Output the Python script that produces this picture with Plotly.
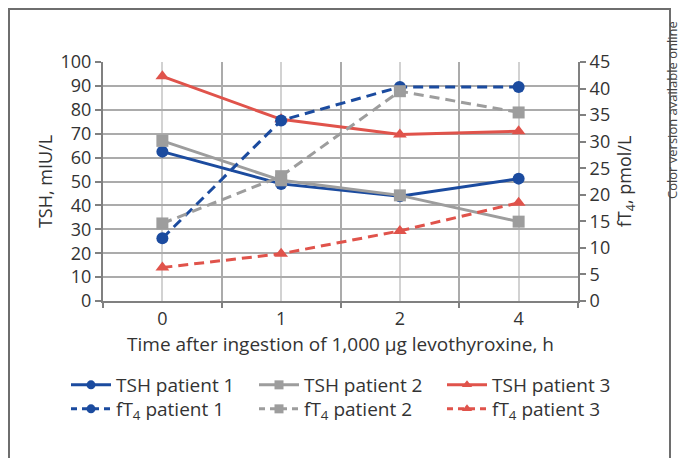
import plotly.graph_objects as go

categories = ["0", "1", "2", "4"]
tsh_p1 = [62.5, 49.0, 43.8, 51.2]
tsh_p2 = [67.0, 50.5, 44.2, 33.2]
tsh_p3 = [94.0, 76.0, 69.7, 71.0]
ft4_p1 = [11.8, 34.0, 40.3, 40.3]
ft4_p2 = [14.6, 23.5, 39.5, 35.5]
ft4_p3 = [6.3, 8.9, 13.2, 18.5]

BLUE = "#1b4b9f"
GRAY = "#9d9d9d"
RED = "#e0534b"
FONT = "Open Sans"
TXT = "#333333"

xs = list(range(len(categories)))

OFF = 8  # page body margin
W, H = 687 - OFF, 458 - OFF
L, R, T, B = 103 - OFF, 578 - OFF, 62 - OFF, 301 - OFF

def px_x(p):
    return (p - OFF - L) / (R - L)

def px_y(p):
    return (B - (p - OFF)) / (B - T)

fig = go.Figure()

series = [
    ("TSH patient 1", tsh_p1, BLUE, "circle", "solid", "y", "legend"),
    ("TSH patient 2", tsh_p2, GRAY, "square", "solid", "y", "legend"),
    ("TSH patient 3", tsh_p3, RED, "triangle-up", "solid", "y", "legend"),
    ("fT<sub>4</sub> patient 1", ft4_p1, BLUE, "circle", "10px,6px", "y2", "legend2"),
    ("fT<sub>4</sub> patient 2", ft4_p2, GRAY, "square", "10px,6px", "y2", "legend2"),
    ("fT<sub>4</sub> patient 3", ft4_p3, RED, "triangle-up", "10px,6px", "y2", "legend2"),
]

for name, vals, col, sym, dash, yax, leg in series:
    fig.add_trace(go.Scatter(
        x=xs, y=vals, name=name, yaxis=yax, showlegend=False,
        mode="lines+markers",
        line=dict(color=col, width=3, dash=dash),
        marker=dict(color=col, symbol=sym, size=12),
    ))

# legend entries (smaller markers, like the reference legend)
for name, vals, col, sym, dash, yax, leg in series:
    fig.add_trace(go.Scatter(
        x=[None], y=[None], name=name, yaxis=yax, legend=leg,
        mode="lines+markers",
        line=dict(color=col, width=3, dash="6px,5px" if dash != "solid" else "solid"),
        marker=dict(color=col, symbol=sym, size=9),
    ))

fig.update_layout(
    width=W, height=H,
    margin=dict(l=L, r=W - R, t=T, b=H - B),
    paper_bgcolor="white", plot_bgcolor="white",
    font=dict(family=FONT, color=TXT, size=18),
    xaxis=dict(
        range=[-0.5, len(categories) - 0.5],
        tickvals=xs, ticktext=categories,
        showgrid=True, gridcolor="#d2d2d2", gridwidth=2,
        ticks="", showline=True, linecolor="#808080", linewidth=2,
        zeroline=False,
        minor=dict(tickvals=[i - 0.5 for i in range(len(categories) + 1)],
                   showgrid=True, gridcolor="#ababab", gridwidth=1.5,
                   ticks="outside", ticklen=5, tickcolor="#808080", tickwidth=1.5),
        title=dict(text="Time after ingestion of 1,000 μg levothyroxine, h", standoff=9,
                   font=dict(size=19)),
        tickfont=dict(size=18),
    ),
    yaxis=dict(
        range=[0, 100], dtick=10,
        showgrid=True, gridcolor="#ababab", gridwidth=1.5,
        ticks="outside", ticklen=6, tickcolor="#808080", tickwidth=1.5,
        showline=True, linecolor="#808080", linewidth=2, zeroline=False,
        title=dict(text="TSH, mIU/L", standoff=3, font=dict(size=18)),
        tickfont=dict(size=18),
    ),
    yaxis2=dict(
        range=[0, 45], dtick=5, overlaying="y", side="right",
        showgrid=False, ticks="outside", ticklen=6, tickcolor="#808080", tickwidth=1.5,
        showline=True, linecolor="#808080", linewidth=2, zeroline=False,
        title=dict(text="fT<sub>4</sub>, pmol/L", standoff=9, font=dict(size=18)),
        tickfont=dict(size=18),
    ),
    legend=dict(orientation="h", x=px_x(66), y=px_y(366), xanchor="left", yanchor="top",
                entrywidth=133, font=dict(size=19), bgcolor="rgba(0,0,0,0)",
                itemwidth=40, tracegroupgap=0),
    legend2=dict(orientation="h", x=px_x(66), y=px_y(390), xanchor="left", yanchor="top",
                 entrywidth=133, font=dict(size=19), bgcolor="rgba(0,0,0,0)",
                 itemwidth=40, tracegroupgap=0),
    showlegend=True,
)

fig.add_shape(type="rect", xref="paper", yref="paper",
              x0=px_x(9), x1=px_x(670), y0=px_y(520), y1=px_y(9),
              line=dict(color="#6e6e6e", width=2), layer="below")

fig.add_annotation(text="Color version available online", xref="paper", yref="paper",
                   x=px_x(672), y=px_y(110), xanchor="center", yanchor="middle",
                   textangle=-90, showarrow=False, borderpad=0,
                   font=dict(size=13, color="#444444", family=FONT))

fig.write_html("out.html")
